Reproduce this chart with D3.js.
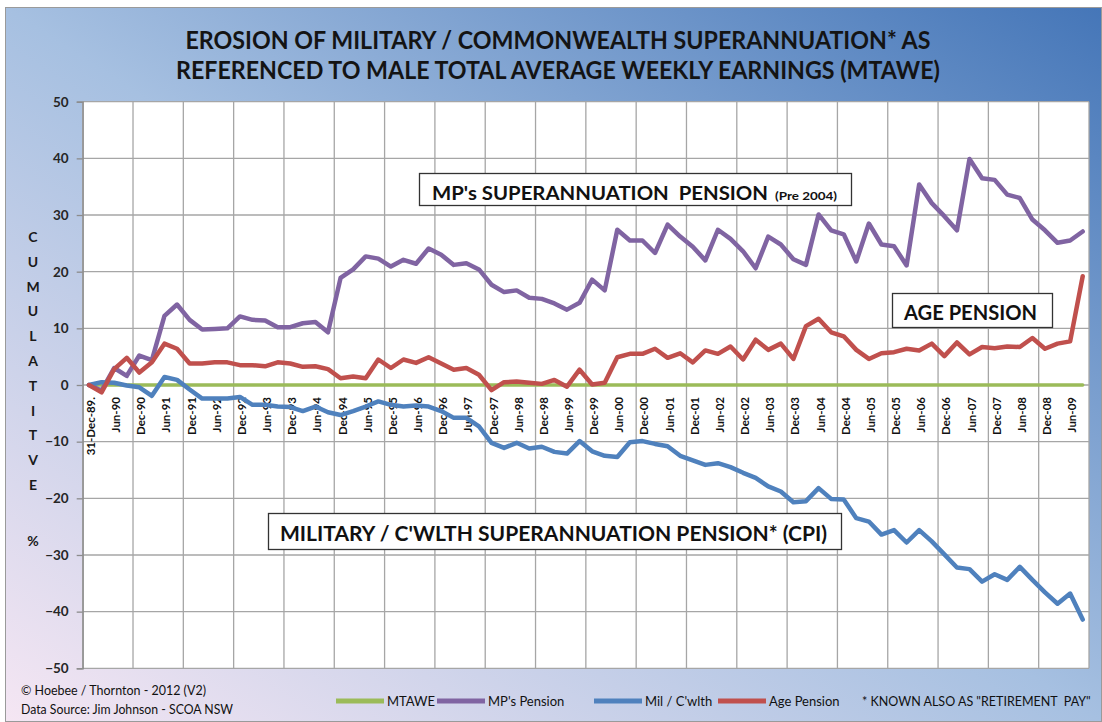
<!DOCTYPE html>
<html>
<head>
<meta charset="utf-8">
<script src="https://cdn.jsdelivr.net/npm/d3@7"></script>
<style>
  body { margin: 0; background: #fff; }
  svg text { font-family: Lato, 'Open Sans', sans-serif; }
</style>
</head>
<body>
<div id="chart-container"></div>
<script>
// quarterly categories, Dec-89 .. Sep-09
const quarters = [
  '31-Dec-89.', 'Mar-90', 'Jun-90', 'Sep-90', 'Dec-90', 'Mar-91', 'Jun-91', 'Sep-91',
  'Dec-91', 'Mar-92', 'Jun-92', 'Sep-92', 'Dec-92', 'Mar-93', 'Jun-93', 'Sep-93',
  'Dec-93', 'Mar-94', 'Jun-94', 'Sep-94', 'Dec-94', 'Mar-95', 'Jun-95', 'Sep-95',
  'Dec-95', 'Mar-96', 'Jun-96', 'Sep-96', 'Dec-96', 'Mar-97', 'Jun-97', 'Sep-97',
  'Dec-97', 'Mar-98', 'Jun-98', 'Sep-98', 'Dec-98', 'Mar-99', 'Jun-99', 'Sep-99',
  'Dec-99', 'Mar-00', 'Jun-00', 'Sep-00', 'Dec-00', 'Mar-01', 'Jun-01', 'Sep-01',
  'Dec-01', 'Mar-02', 'Jun-02', 'Sep-02', 'Dec-02', 'Mar-03', 'Jun-03', 'Sep-03',
  'Dec-03', 'Mar-04', 'Jun-04', 'Sep-04', 'Dec-04', 'Mar-05', 'Jun-05', 'Sep-05',
  'Dec-05', 'Mar-06', 'Jun-06', 'Sep-06', 'Dec-06', 'Mar-07', 'Jun-07', 'Sep-07',
  'Dec-07', 'Mar-08', 'Jun-08', 'Sep-08', 'Dec-08', 'Mar-09', 'Jun-09', 'Sep-09'
];

const yTicks = [-50, -40, -30, -20, -10, 0, 10, 20, 30, 40, 50];

const mtawe = [
  0, 0, 0, 0, 0, 0, 0, 0, 0, 0, 0, 0, 0, 0, 0, 0, 0, 0, 0, 0,
  0, 0, 0, 0, 0, 0, 0, 0, 0, 0, 0, 0, 0, 0, 0, 0, 0, 0, 0, 0,
  0, 0, 0, 0, 0, 0, 0, 0, 0, 0, 0, 0, 0, 0, 0, 0, 0, 0, 0, 0,
  0, 0, 0, 0, 0, 0, 0, 0, 0, 0, 0, 0, 0, 0, 0, 0, 0, 0, 0, 0
];

const mpPension = [
  0, -1.0, 3.0, 1.6, 5.2, 4.4, 12.2, 14.2, 11.5, 9.8,
  9.9, 10.0, 12.1, 11.5, 11.4, 10.2, 10.2, 10.9, 11.1, 9.3,
  18.9, 20.4, 22.7, 22.3, 20.9, 22.1, 21.4, 24.1, 23.0, 21.2,
  21.5, 20.4, 17.7, 16.4, 16.7, 15.4, 15.2, 14.4, 13.3, 14.5,
  18.6, 16.7, 27.4, 25.5, 25.5, 23.3, 28.3, 26.2, 24.4, 22.0,
  27.4, 25.8, 23.6, 20.6, 26.2, 24.8, 22.2, 21.2, 30.1, 27.3,
  26.6, 21.8, 28.5, 24.8, 24.5, 21.1, 35.4, 32.1, 29.8, 27.3,
  39.9, 36.5, 36.2, 33.6, 33.0, 29.2, 27.3, 25.1, 25.5, 27.1
];

const milCwlth = [
  0, 0.5, 0.4, -0.1, -0.4, -1.9, 1.4, 0.9, -0.8, -2.4,
  -2.4, -2.4, -2.1, -3.5, -3.5, -3.8, -3.9, -4.6, -3.8, -4.8,
  -5.3, -4.6, -3.8, -2.9, -3.5, -3.8, -3.6, -3.8, -4.6, -5.8,
  -5.8, -7.3, -10.2, -11.1, -10.2, -11.2, -10.9, -11.8, -12.1, -9.9,
  -11.7, -12.5, -12.7, -10.1, -9.9, -10.4, -10.8, -12.5, -13.3, -14.1,
  -13.8, -14.5, -15.5, -16.4, -17.9, -18.8, -20.7, -20.5, -18.2, -20.1,
  -20.2, -23.5, -24.1, -26.4, -25.6, -27.8, -25.6, -27.6, -29.9, -32.2,
  -32.5, -34.7, -33.4, -34.4, -32.1, -34.4, -36.6, -38.6, -36.8, -41.4
];

const agePension = [
  0, -1.3, 2.8, 4.8, 2.2, 4.0, 7.3, 6.4, 3.8, 3.8,
  4.0, 4.0, 3.5, 3.5, 3.3, 4.0, 3.8, 3.2, 3.3, 2.8,
  1.2, 1.5, 1.2, 4.5, 3.0, 4.5, 3.9, 4.9, 3.8, 2.7,
  3.0, 1.8, -0.9, 0.5, 0.6, 0.4, 0.2, 0.9, -0.3, 2.7,
  0.1, 0.4, 4.9, 5.5, 5.5, 6.4, 4.8, 5.6, 4.0, 6.1,
  5.5, 6.8, 4.5, 8.0, 6.2, 7.3, 4.6, 10.4, 11.7, 9.3,
  8.6, 6.2, 4.6, 5.6, 5.8, 6.4, 6.1, 7.3, 5.1, 7.5,
  5.4, 6.7, 6.5, 6.8, 6.7, 8.3, 6.4, 7.3, 7.7, 19.2
];

const seriesNames = ['MTAWE', "MP's Pension", "Mil / C'wlth", 'Age Pension'];
const seriesColours = ['#9BBB59', '#8064A2', '#4F81BD', '#C0504D'];
const yAxisLetters = ['C', 'U', 'M', 'U', 'L', 'A', 'T', 'I', 'T', 'V', 'E'];

//chart dimensions
const svgWidth = 1102;
const svgHeight = 722;
const marginTop = 101.7;
const marginRight = 13;
const marginBottom = 53.7;
const marginLeft = 82.7;

const svg = d3
  .create('svg')
  .attr('width', svgWidth)
  .attr('height', svgHeight)
  .attr('viewBox', [0, 0, svgWidth, svgHeight]);

// background gradient
const defs = svg.append('defs');
const grad = defs
  .append('linearGradient')
  .attr('id', 'bg')
  .attr('x1', 0).attr('y1', 1)
  .attr('x2', 1).attr('y2', 0);
grad.append('stop').attr('offset', '0%').attr('stop-color', '#f5e6f3');
grad.append('stop').attr('offset', '50%').attr('stop-color', '#a6c0e1');
grad.append('stop').attr('offset', '100%').attr('stop-color', '#4576b8');

svg
  .append('rect')
  .attr('x', 5.5)
  .attr('y', 7.5)
  .attr('width', svgWidth - 6)
  .attr('height', svgHeight - 8)
  .attr('fill', 'url(#bg)')
  .attr('stroke', '#9a9a9a');

// title
const titleLines = [
  { text: 'EROSION OF MILITARY / COMMONWEALTH SUPERANNUATION* AS', y: 49, len: 745 },
  { text: 'REFERENCED TO MALE TOTAL AVERAGE WEEKLY EARNINGS (MTAWE)', y: 79, len: 764 }
];
svg
  .append('g')
  .selectAll('text')
  .data(titleLines)
  .join('text')
  .attr('x', 558)
  .attr('y', (d) => d.y)
  .attr('text-anchor', 'middle')
  .attr('font-size', 25)
  .attr('font-weight', 'bold')
  .attr('fill', '#141414')
  .attr('textLength', (d) => d.len)
  .attr('lengthAdjust', 'spacingAndGlyphs')
  .text((d) => d.text);

// scales
const xScale = d3
  .scaleBand()
  .domain(d3.range(quarters.length))
  .range([marginLeft, svgWidth - marginRight]);
const bw = xScale.bandwidth();
const yScale = d3
  .scaleLinear()
  .domain([-50, 50])
  .range([svgHeight - marginBottom, marginTop]);

// plot area
svg
  .append('rect')
  .attr('x', marginLeft)
  .attr('y', marginTop)
  .attr('width', svgWidth - marginRight - marginLeft)
  .attr('height', svgHeight - marginBottom - marginTop)
  .attr('fill', '#fff');

// gridlines
const grid = svg.append('g').attr('stroke', '#a6a6a6').attr('stroke-width', 1.3);
grid
  .selectAll('line.h')
  .data(yTicks)
  .join('line')
  .attr('class', 'h')
  .attr('x1', marginLeft)
  .attr('x2', svgWidth - marginRight)
  .attr('y1', (d) => yScale(d))
  .attr('y2', (d) => yScale(d));
const vIdx = d3.range(0, quarters.length + 1, 4);
grid
  .selectAll('line.v')
  .data(vIdx)
  .join('line')
  .attr('class', 'v')
  .attr('x1', (d) => (d < quarters.length ? xScale(d) : svgWidth - marginRight))
  .attr('x2', (d) => (d < quarters.length ? xScale(d) : svgWidth - marginRight))
  .attr('y1', marginTop)
  .attr('y2', svgHeight - marginBottom);

// y axis
svg
  .append('g')
  .attr('transform', `translate(${marginLeft},0)`)
  .call(d3.axisLeft(yScale).tickValues(yTicks).tickSize(6).tickPadding(8))
  .call((g) => g.select('.domain').attr('stroke', '#8c8c8c').attr('stroke-width', 1.3))
  .call((g) => g.selectAll('.tick line').attr('stroke', '#8c8c8c').attr('stroke-width', 1.3))
  .call((g) =>
    g
      .selectAll('.tick text')
      .attr('font-family', 'Lato, sans-serif')
      .attr('font-size', 13.5)
      .attr('font-weight', 'bold')
      .attr('fill', '#262626')
  );

// vertical axis title
svg
  .append('g')
  .selectAll('text')
  .data(yAxisLetters)
  .join('text')
  .attr('x', 33)
  .attr('y', (d, i) => 242 + i * 24.8)
  .attr('text-anchor', 'middle')
  .attr('font-size', 14)
  .attr('font-weight', 'bold')
  .attr('fill', '#1a1a1a')
  .text((d) => d);
svg
  .append('text')
  .attr('x', 33)
  .attr('y', 546)
  .attr('text-anchor', 'middle')
  .attr('font-size', 14)
  .attr('font-weight', 'bold')
  .attr('fill', '#1a1a1a')
  .text('%');

// x axis (crosses at zero)
svg
  .append('g')
  .attr('transform', `translate(0,${yScale(0)})`)
  .call(
    d3
      .axisBottom(xScale)
      .tickValues(d3.range(0, quarters.length, 2))
      .tickSize(0)
      .tickFormat((i) => quarters[i])
  )
  .call((g) => g.select('.domain').remove())
  .call((g) =>
    g
      .selectAll('.tick text')
      .attr('transform', 'rotate(-90)')
      .attr('text-anchor', 'end')
      .attr('x', -12)
      .attr('y', 6)
      .attr('dy', 0)
      .attr('font-family', "'Liberation Sans', Arial, sans-serif")
      .attr('font-size', 11.5)
      .attr('font-weight', 'bold')
      .attr('fill', '#111')
  );

// lines
const seriesData = [mtawe, mpPension, milCwlth, agePension];
const line = d3
  .line()
  .x((d, i) => xScale(i) + bw / 2)
  .y((d) => yScale(d));
svg
  .append('g')
  .attr('fill', 'none')
  .attr('stroke-linejoin', 'round')
  .attr('stroke-linecap', 'round')
  .selectAll('path')
  .data(seriesData)
  .join('path')
  .attr('stroke', (d, i) => seriesColours[i])
  .attr('stroke-width', (d, i) => (i === 0 ? 3.5 : 4.5))
  .attr('d', line);

// annotation boxes
const boxes = [
  { x: 419, y: 173, w: 432, h: 32 },
  { x: 892, y: 293, w: 160, h: 34 },
  { x: 268, y: 513, w: 573, h: 36 }
];
svg
  .append('g')
  .selectAll('rect')
  .data(boxes)
  .join('rect')
  .attr('x', (d) => d.x + 0.5)
  .attr('y', (d) => d.y + 0.5)
  .attr('width', (d) => d.w)
  .attr('height', (d) => d.h)
  .attr('fill', '#fff')
  .attr('stroke', '#333')
  .attr('stroke-width', 1.3);

const boxText = [
  { text: "MP's SUPERANNUATION\u00a0\u00a0PENSION", x: 432, y: 200, size: 19.5, len: 336 },
  { text: '(Pre 2004)', x: 775, y: 200, size: 12, len: 62 },
  { text: 'AGE PENSION', x: 904, y: 320, size: 20, len: 133 },
  { text: "MILITARY / C'WLTH SUPERANNUATION PENSION* (CPI)", x: 280, y: 540.5, size: 20, len: 547 }
];
svg
  .append('g')
  .selectAll('text')
  .data(boxText)
  .join('text')
  .attr('x', (d) => d.x)
  .attr('y', (d) => d.y)
  .attr('font-size', (d) => d.size)
  .attr('font-weight', 'bold')
  .attr('fill', '#111')
  .attr('textLength', (d) => d.len)
  .attr('lengthAdjust', 'spacingAndGlyphs')
  .text((d) => d.text);

// legend
const legendX = [336, 437, 594, 718];
const legend = svg
  .append('g')
  .selectAll('g')
  .data(seriesNames)
  .join('g')
  .attr('transform', (d, i) => `translate(${legendX[i]},701)`);
legend
  .append('line')
  .attr('x1', 0)
  .attr('x2', 48)
  .attr('stroke', (d, i) => seriesColours[i])
  .attr('stroke-width', 5);
legend
  .append('text')
  .attr('x', 51)
  .attr('y', 5)
  .attr('font-size', 13)
  .attr('fill', '#111')
  .text((d) => d);

svg
  .append('text')
  .attr('x', 862)
  .attr('y', 706)
  .attr('font-size', 12.5)
  .attr('fill', '#111')
  .text('* KNOWN ALSO AS "RETIREMENT\u00a0\u00a0PAY"');

// footer
const footer = [
  { text: '\u00a9 Hoebee / Thornton - 2012 (V2)', y: 695, len: 185 },
  { text: 'Data Source: Jim Johnson - SCOA NSW', y: 714, len: 212 }
];
svg
  .append('g')
  .selectAll('text')
  .data(footer)
  .join('text')
  .attr('x', 21)
  .attr('y', (d) => d.y)
  .attr('font-size', 13)
  .attr('fill', '#111')
  .attr('textLength', (d) => d.len)
  .attr('lengthAdjust', 'spacingAndGlyphs')
  .text((d) => d.text);

document.querySelector('#chart-container').append(svg.node());
</script>
</body>
</html>
